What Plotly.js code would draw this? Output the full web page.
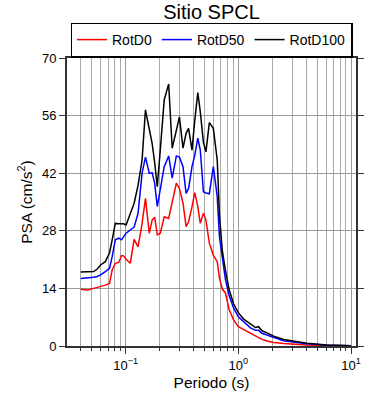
<!DOCTYPE html>
<html>
<head>
<meta charset="utf-8">
<script src="https://cdn.plot.ly/plotly-3.0.1.min.js"></script>
<style>html,body{margin:0;padding:0;background:#fff;}#chart{width:390px;height:400px;}</style>
</head>
<body>
<div id="chart"></div>
<script>
// Period (s)
const periods = [0.040,0.046,0.052,0.056,0.060,0.066,0.072,0.076,0.081,0.087,0.092,0.096,0.101,0.110,0.119,0.129,0.140,0.150,0.162,0.172,0.181,0.191,0.203,0.220,0.241,0.259,0.282,0.300,0.323,0.344,0.362,0.388,0.411,0.437,0.460,0.490,0.516,0.553,0.600,0.650,0.680,0.720,0.767,0.830,0.910,1.00,1.11,1.28,1.42,1.51,1.62,1.80,2.06,2.52,3.18,4.07,6.10,10.0];
// PSA (cm/s^2)
const rotD0 = [13.8,13.6,14.0,14.2,14.4,14.8,15.2,18.5,20.1,20.3,22.0,21.9,21.1,20.1,25.9,24.1,29.8,35.9,27.4,30.6,31.3,27.0,27.4,31.4,31.0,35.1,39.6,38.3,34.7,29.0,30.2,33.8,37.3,33.9,29.8,32.3,30.6,25.0,22.1,20.5,16.5,13.9,12.9,8.8,6.3,4.7,4.0,3.2,2.3,1.9,1.6,1.2,0.85,0.6,0.4,0.25,0.12,0.05];
const rotD50 = [16.4,16.5,16.7,16.9,17.3,18.1,18.9,21.7,25.8,26.2,25.8,26.6,27.4,28.2,28.9,32.3,42.0,45.9,42.0,42.1,39.6,33.9,37.9,43.6,46.2,40.8,46.2,45.9,43.6,37.1,38.3,43.6,46.4,50.5,47.6,37.5,37.2,37.0,43.6,36.3,26.6,21.7,16.3,12.2,9.2,7.1,5.9,4.4,3.8,3.8,3.1,2.7,2.0,1.3,0.9,0.53,0.2,0.07];
const rotD100 = [18.0,18.0,18.1,18.7,19.7,20.5,22.6,25.8,29.8,29.7,29.8,29.7,29.4,32.3,34.7,39.1,45.2,57.4,52.5,49.2,44.6,38.7,47.6,59.8,63.7,48.1,52.4,55.7,48.1,51.7,52.9,47.6,54.9,61.6,56.9,49.5,47.2,54.3,52.9,45.2,31.8,23.3,18.5,13.6,10.2,8.1,6.6,5.3,4.5,4.7,3.7,3.2,2.4,1.6,1.1,0.65,0.25,0.08];

const seriesNames = ['RotD0','RotD50','RotD100'];
const seriesColors = ['#ff0000','#0000ff','#000000'];
const seriesValues = [rotD0, rotD50, rotD100];

const majorTicks = [0.1, 1, 10];
const majorLabels = ['10<sup>\u22121</sup>','10<sup>0</sup>','10<sup>1</sup>'];
const minorTicks = [0.04,0.05,0.06,0.07,0.08,0.09,0.2,0.3,0.4,0.5,0.6,0.7,0.8,0.9,2,3,4,5,6,7,8,9];
const yTicks = [0,14,28,42,56,70];

const FONT = 'Liberation Sans, Arial, Helvetica, sans-serif';

const traces = seriesNames.map((n,i)=>({
  x: periods, y: seriesValues[i], name: n, type:'scatter', mode:'lines',
  line:{color: seriesColors[i], width:1.5}
}));

const layout = {
  width:390, height:400,
  margin:{l:67, r:34, t:58, b:54, pad:0},
  paper_bgcolor:'#fff', plot_bgcolor:'#fff',
  font:{family:FONT, color:'#000', size:13},
  title:{text:'Sitio SPCL', font:{size:20, family:FONT, color:'#000'}, x:0.5, xref:'paper', xanchor:'center', y:0.97, yref:'container', yanchor:'middle'},
  showlegend:true,
  legend:{orientation:'h', x:0.5, xanchor:'center', y:1.0625, yanchor:'middle', bordercolor:'#000', borderwidth:1.5, bgcolor:'#fff', font:{size:14, family:FONT}, traceorder:'normal'},
  xaxis:{
    type:'log', range:[-1.52, 1.044], autorange:false,
    tickmode:'array', tickvals: majorTicks, ticktext: majorLabels,
    ticks:'outside', ticklen:6, tickwidth:1, tickcolor:'#333',
    showgrid:true, gridcolor:'#999', gridwidth:1,
    minor:{tickmode:'array', tickvals: minorTicks, ticks:'outside', ticklen:3, tickcolor:'#333', showgrid:true, gridcolor:'#aaa', gridwidth:1},
    showline:true, linecolor:'#333', linewidth:2, mirror:'ticks',
    zeroline:false, tickfont:{size:13},
    title:{text:'Periodo (s)', font:{size:15.5}, standoff:6}
  },
  yaxis:{
    range:[0,70], autorange:false,
    tickmode:'array', tickvals: yTicks,
    ticks:'outside', ticklen:6, tickwidth:1, tickcolor:'#333',
    showgrid:true, gridcolor:'#999', gridwidth:1,
    showline:true, linecolor:'#333', linewidth:2, mirror:'ticks',
    zeroline:false, tickfont:{size:13},
    title:{text:'PSA (cm/s<sup>2</sup>)', font:{size:15.5}, standoff:6}
  }
};

Plotly.newPlot('chart', traces, layout, {displayModeBar:false, staticPlot:true});
</script>
</body>
</html>
